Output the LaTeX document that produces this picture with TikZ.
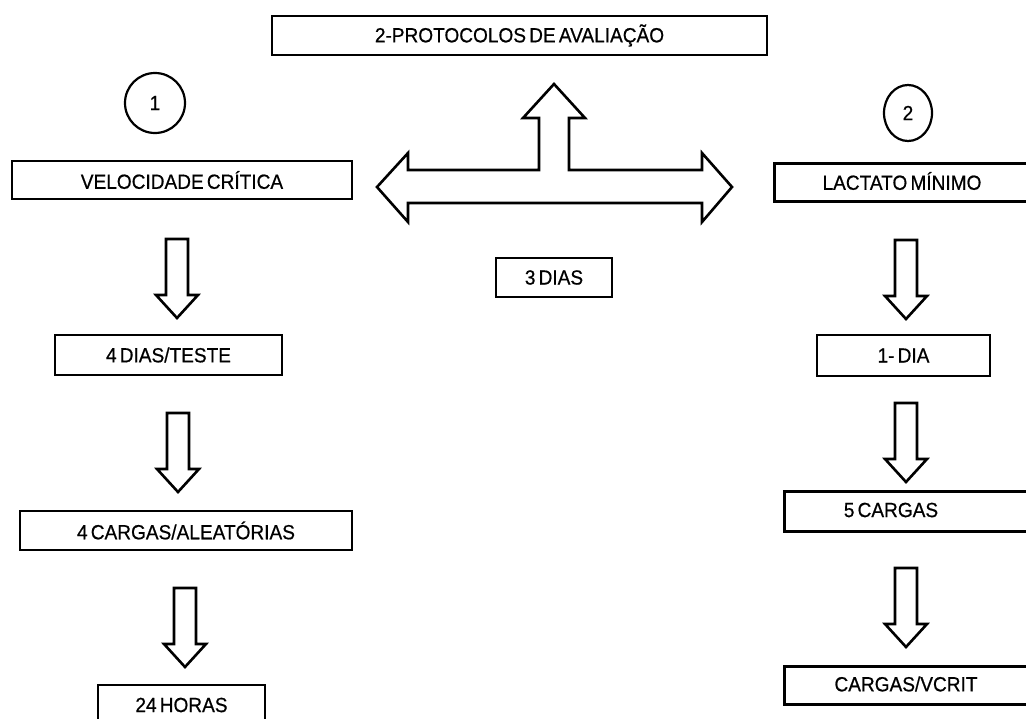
\documentclass[tikz,border=0pt]{standalone}
\usepackage{fontspec}
\setmainfont{Liberation Sans}[FakeStretch=0.93, WordSpace=0.6, FakeBold=0.6]
\usetikzlibrary{shapes.geometric}
\tikzset{
  box/.style={draw, line width=2.8pt, rectangle, inner sep=0pt, font=\fontsize{20.5}{22}\selectfont},
  lbl/.style={inner sep=0pt, font=\fontsize{20.5}{22}\selectfont},
  ring/.style={draw, line width=2.2pt, ellipse, inner sep=0pt, font=\fontsize{20.5}{22}\selectfont},
  blk/.style={draw, line width=2.6pt, line join=miter, fill=white},
  downarr/.pic={\draw[blk] (-11,0) -- (11,0) -- (11,56) -- (21,56) -- (0,79) -- (-21,56) -- (-11,56) -- cycle;}
}
\begin{document}
\begin{tikzpicture}[x=1pt,y=-1pt]
\useasboundingbox (0,0) rectangle (1026,718);
\clip (0,0) rectangle (1026,718);
% top
\node[box, minimum width=495, minimum height=39] (top) at (519.5,35.5) {2-PROTOCOLOS DE AVALIAÇÃO};
% cross arrow
\draw[blk] (377,187) -- (408,153) -- (408,170) -- (539,170) -- (539,118) -- (523,118) -- (554,84)
  -- (585,118) -- (569,118) -- (569,170) -- (702,170) -- (702,153) -- (732,187) -- (702,222)
  -- (702,203) -- (408,203) -- (408,222) -- cycle;
\node[box, minimum width=116, minimum height=39] (d3) at (554,277.5) {3 DIAS};
% left column
\node[ring, minimum width=60, minimum height=60] (c1) at (155,103) {1};
\node[box, minimum width=340, minimum height=38] (vc) at (182,180) {VELOCIDADE CRÍTICA};
\pic (a1) at (177,239) {downarr};
\node[box, minimum width=227, minimum height=40] (d4) at (168.5,355) {4 DIAS/TESTE};
\pic (a2) at (178,413) {downarr};
\node[box, minimum width=332, minimum height=39] (c4) at (186,530.5) {4 CARGAS/ALEATÓRIAS};
\pic (a3) at (185,588) {downarr};
\node[box, minimum width=167, minimum height=40] (h24) at (181.5,705) {24 HORAS};
% right column
\node[ring, minimum width=48, minimum height=56] (c2) at (908,113) {2};
\node[box, anchor=north west, minimum width=270, minimum height=38] (lm) at (773,162) {};
\node[lbl] (lmt) at (902,181) {LACTATO MÍNIMO};
\pic (b1) at (906,240) {downarr};
\node[box, minimum width=173, minimum height=41] (d1) at (903.5,355.5) {1- DIA};
\pic (b2) at (906,403) {downarr};
\node[box, anchor=north west, minimum width=270, minimum height=40] (c5) at (783,490) {};
\node[lbl] (c5t) at (891,510) {5 CARGAS};
\pic (b3) at (906,568) {downarr};
\node[box, anchor=north west, minimum width=270, minimum height=38] (cv) at (783,665) {};
\node[lbl] (cvt) at (906,684) {CARGAS/VCRIT};
\end{tikzpicture}
\end{document}
